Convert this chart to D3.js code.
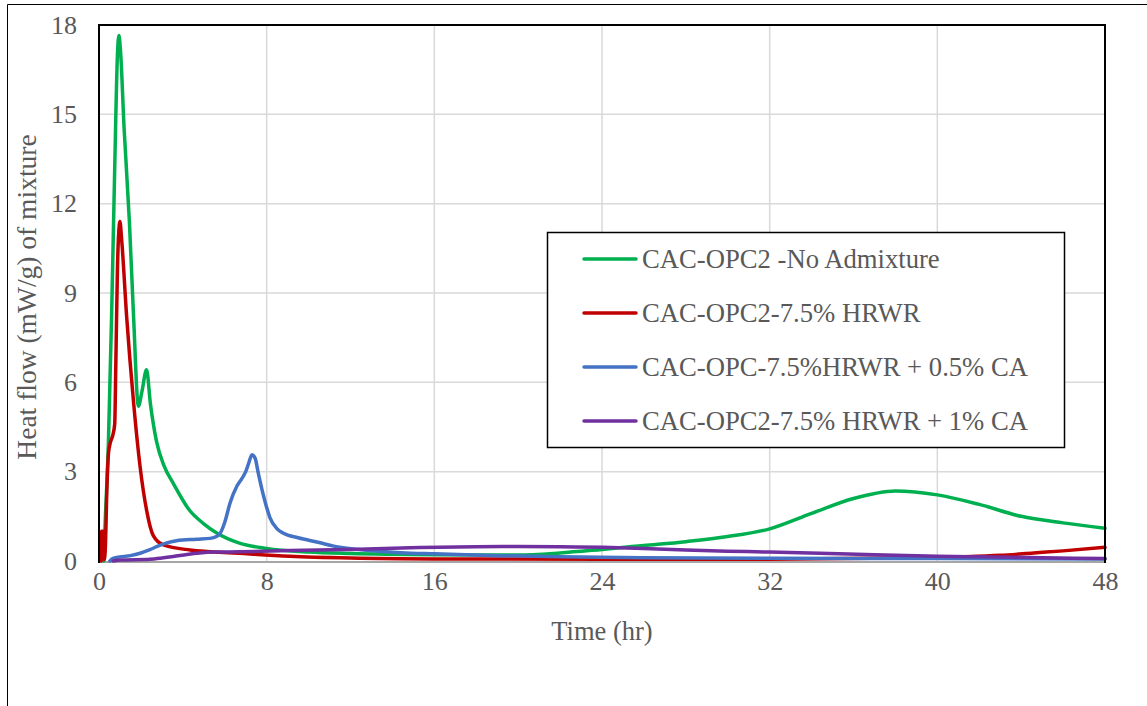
<!DOCTYPE html>
<html>
<head>
<meta charset="utf-8">
<script src="https://cdn.jsdelivr.net/npm/d3@7"></script>
<style>
  html, body { margin: 0; padding: 0; background: #fff; }
  svg { display: block; }
  text { font-family: "Liberation Serif", "Times New Roman", serif; fill: #595959; }
</style>
</head>
<body>
<svg id="chart" width="1147" height="706"></svg>
<script>
// Heat flow (mW/g) versus time (hr) for the four mixtures
const seriesNames = [
  "CAC-OPC2 -No Admixture",
  "CAC-OPC2-7.5% HRWR",
  "CAC-OPC-7.5%HRWR + 0.5% CA",
  "CAC-OPC2-7.5% HRWR + 1% CA"
];
const seriesColors = ["#00B050", "#C00000", "#4472C4", "#7030A0"];

const xTicks = [0, 8, 16, 24, 32, 40, 48];
const yTicks = [0, 3, 6, 9, 12, 15, 18];

// CAC-OPC2 -No Admixture
const noAdmixTime = [0.22, 0.3, 0.45, 0.6, 0.75, 0.88, 0.95, 1.02, 1.2, 1.45, 1.65, 1.88, 2.05, 2.27, 2.45, 2.75, 3.1, 3.55, 4.3, 5.0, 5.6, 6.7, 8, 10, 12, 16, 20, 22, 24, 26, 28, 30, 32, 34, 36, 38, 40, 42, 44, 46, 48];
const noAdmixFlow = [0, 1.4, 4.0, 8.2, 13.2, 17.0, 17.65, 17.2, 14.5, 11.4, 8.2, 5.2, 5.7, 6.42, 5.3, 4.0, 3.2, 2.6, 1.72, 1.25, 0.95, 0.6, 0.42, 0.3, 0.25, 0.21, 0.2, 0.27, 0.39, 0.52, 0.65, 0.82, 1.08, 1.6, 2.1, 2.35, 2.22, 1.9, 1.5, 1.28, 1.1];

// CAC-OPC2-7.5% HRWR
const hrwrTime = [0.1, 0.12, 0.2, 0.25, 0.3, 0.38, 0.45, 0.55, 0.65, 0.75, 0.8, 0.88, 0.97, 1.0, 1.08, 1.32, 1.64, 1.96, 2.27, 2.59, 3.07, 4.34, 6.7, 9.1, 12, 16, 24, 32, 38, 41, 43, 44.6, 46, 48];
const hrwrFlow = [0, 1.0, 1.0, 0.05, 0.4, 2.5, 3.6, 4.0, 4.2, 4.6, 6.5, 9.8, 11.3, 11.4, 10.8, 8.2, 5.4, 3.17, 1.71, 0.85, 0.54, 0.37, 0.26, 0.16, 0.1, 0.07, 0.06, 0.06, 0.1, 0.14, 0.19, 0.27, 0.34, 0.46];

// CAC-OPC-7.5%HRWR + 0.5% CA
const ca05Time = [0.52, 0.65, 0.84, 1.5, 1.96, 2.4, 2.75, 3.2, 3.7, 4.66, 5.3, 5.6, 5.8, 6.0, 6.25, 6.57, 6.8, 7.0, 7.15, 7.3, 7.45, 7.6, 7.76, 8.0, 8.16, 8.5, 8.8, 9.5, 10.5, 11.2, 12.5, 14.4, 16, 19, 22, 26, 32, 40, 48];
const ca05Flow = [0, 0.08, 0.12, 0.18, 0.26, 0.37, 0.48, 0.6, 0.68, 0.73, 0.76, 0.82, 0.95, 1.3, 1.94, 2.5, 2.75, 3.0, 3.3, 3.57, 3.45, 2.95, 2.45, 1.8, 1.45, 1.08, 0.93, 0.78, 0.62, 0.5, 0.38, 0.28, 0.24, 0.18, 0.14, 0.11, 0.09, 0.08, 0.07];

// CAC-OPC2-7.5% HRWR + 1% CA
const ca1Time = [0.68, 1.0, 2.43, 3.0, 3.55, 4.2, 4.8, 5.5, 6.7, 9.1, 12, 15.3, 18, 20, 22, 24, 26, 28, 30, 32, 34.4, 37, 40, 42, 45, 48];
const ca1Flow = [0, 0.03, 0.06, 0.1, 0.15, 0.22, 0.27, 0.3, 0.31, 0.35, 0.39, 0.45, 0.48, 0.49, 0.48, 0.46, 0.42, 0.37, 0.33, 0.3, 0.26, 0.21, 0.16, 0.14, 0.11, 0.08];

const seriesTimes = [noAdmixTime, hrwrTime, ca05Time, ca1Time];
const seriesFlows = [noAdmixFlow, hrwrFlow, ca05Flow, ca1Flow];

const svg = d3.select("#chart");
const plot = { left: 99, right: 1105, top: 25, bottom: 561 };

const x = d3.scaleLinear().domain([0, 48]).range([plot.left, plot.right]);
const y = d3.scaleLinear().domain([0, 18]).range([plot.bottom, plot.top]);

// outer chart frame
svg.append("path")
  .attr("d", `M7.5,706 V4.5 H1147`)
  .attr("fill", "none").attr("stroke", "#000").attr("stroke-width", 1);

// gridlines
const grid = svg.append("g");
grid.selectAll("line.h").data(yTicks.filter(v => v > 0 && v < 18)).join("line")
  .attr("x1", plot.left).attr("x2", plot.right)
  .attr("y1", d => y(d)).attr("y2", d => y(d))
  .attr("stroke", "#d9d9d9").attr("stroke-width", 1.5);
grid.selectAll("line.v").data(xTicks.filter(v => v > 0 && v < 48)).join("line")
  .attr("y1", plot.top).attr("y2", plot.bottom)
  .attr("x1", d => x(d)).attr("x2", d => x(d))
  .attr("stroke", "#d9d9d9").attr("stroke-width", 1.5);

// horizontal axis line
svg.append("line")
  .attr("x1", plot.left).attr("x2", plot.right)
  .attr("y1", plot.bottom + 1).attr("y2", plot.bottom + 1)
  .attr("stroke", "#a6a6a6").attr("stroke-width", 2);

// tick labels
const xAxis = d3.axisBottom(x).tickValues(xTicks).tickSize(0).tickPadding(11).tickFormat(d3.format("d"));
const xg = svg.append("g").attr("transform", `translate(0,${plot.bottom})`).call(xAxis);
xg.select(".domain").remove();
xg.selectAll("text").attr("font-size", 26).attr("fill", "#595959")
  .style("font-family", '"Liberation Serif", serif');

const yAxis = d3.axisLeft(y).tickValues(yTicks).tickSize(0).tickPadding(22).tickFormat(d3.format("d"));
const yg = svg.append("g").attr("transform", `translate(${plot.left},0)`).call(yAxis);
yg.select(".domain").remove();
yg.selectAll("text").attr("font-size", 26).attr("fill", "#595959")
  .style("font-family", '"Liberation Serif", serif');

// series lines
const line = d3.line()
  .x(d => x(d[0])).y(d => y(d[1]))
  .curve(d3.curveMonotoneX);

const lines = svg.append("g");
seriesNames.forEach((name, i) => {
  const pts = seriesTimes[i].map((t, k) => [t, seriesFlows[i][k]]);
  lines.append("path")
    .datum(pts)
    .attr("d", line)
    .attr("fill", "none")
    .attr("stroke", seriesColors[i])
    .attr("stroke-width", 3.5)
    .attr("stroke-linejoin", "round")
    .attr("stroke-linecap", "round");
});

// plot frame: black on top, left and right
svg.append("path")
  .attr("d", `M${plot.left},${plot.bottom + 2} V${plot.top} H${plot.right} V${plot.bottom + 2}`)
  .attr("fill", "none").attr("stroke", "#000").attr("stroke-width", 2);

// axis titles
svg.append("text")
  .attr("x", (plot.left + plot.right) / 2).attr("y", 640)
  .attr("text-anchor", "middle").attr("font-size", 26.5)
  .text("Time (hr)");
svg.append("text")
  .attr("transform", `translate(36,${(plot.top + plot.bottom) / 2 + 4}) rotate(-90)`)
  .attr("text-anchor", "middle").attr("font-size", 27.5)
  .text("Heat flow (mW/g) of mixture");

// legend
const legend = svg.append("g");
legend.append("rect")
  .attr("x", 547.5).attr("y", 232.5).attr("width", 517).attr("height", 215)
  .attr("fill", "#fff").attr("stroke", "#000").attr("stroke-width", 1.5);
const rowY = d3.scalePoint().domain(seriesNames).range([259, 421]);
seriesNames.forEach((name, i) => {
  legend.append("line")
    .attr("x1", 584).attr("x2", 636)
    .attr("y1", rowY(name)).attr("y2", rowY(name))
    .attr("stroke", seriesColors[i]).attr("stroke-width", 3.5)
    .attr("stroke-linecap", "round");
  legend.append("text")
    .attr("x", 642).attr("y", rowY(name) + 9)
    .attr("font-size", 26.67)
    .text(name);
});
</script>
</body>
</html>
